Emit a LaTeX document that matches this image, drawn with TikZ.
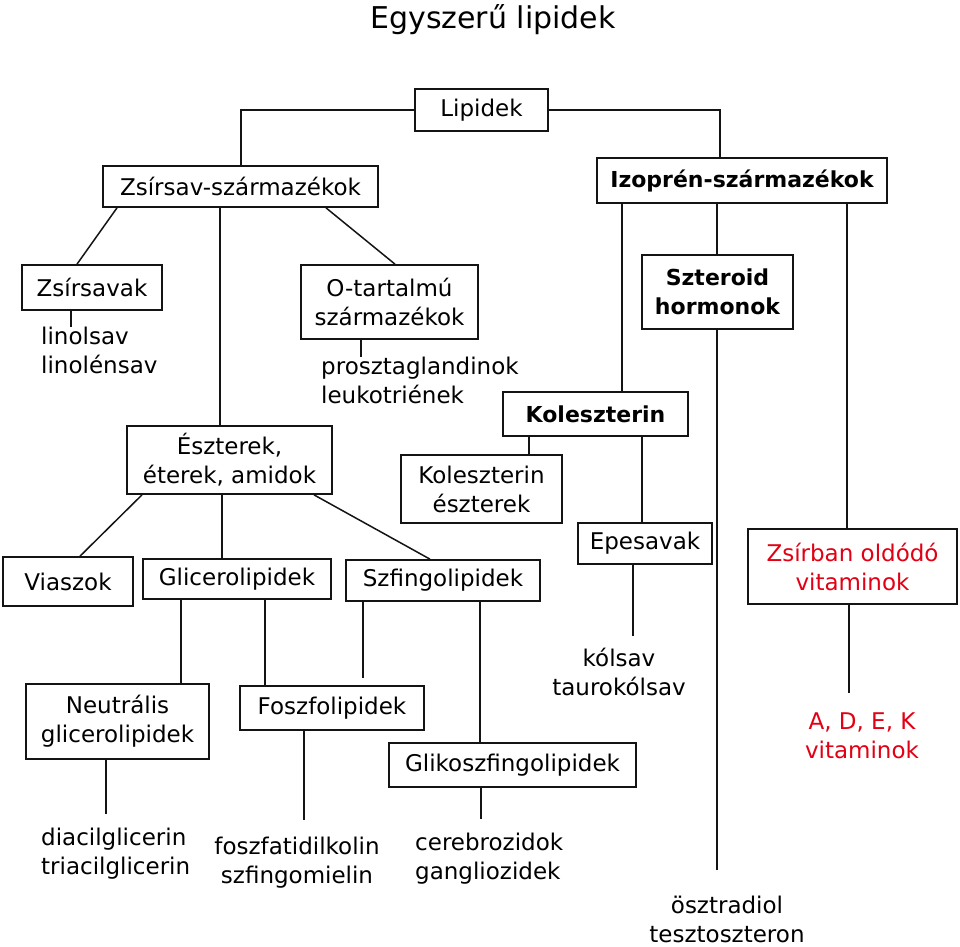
\documentclass[tikz,border=0pt]{standalone}
\usepackage{fontspec}
\setmainfont{DejaVu Sans}
\definecolor{vred}{RGB}{225,0,20}
\definecolor{ink}{RGB}{20,20,20}
\begin{document}
\begin{tikzpicture}[x=1pt,y=-1pt,
  box/.style={draw=ink, line width=1.7pt, inner sep=0pt, align=center, text=black,
    font=\fontsize{23}{29}\selectfont},
  bbox/.style={box, font=\fontsize{22}{29}\bfseries\selectfont},
  txt/.style={inner sep=0pt, font=\fontsize{23}{28.5}\selectfont},
  link/.style={draw=ink, line width=1.5pt}]
\useasboundingbox (0,0) rectangle (960,946);
\node[font=\fontsize{30}{36}\selectfont] (title) at (493,20) {Egyszerű lipidek};
% boxes
\node[box, minimum width=133pt, minimum height=42pt] (lip) at (481.5,110) {Lipidek};
\node[box, minimum width=275pt, minimum height=41pt] (zs) at (240.5,186.5) {Zsírsav-származékok};
\node[bbox, minimum width=290pt, minimum height=45pt] (izo) at (742,180.5) {Izoprén-származékok};
\node[box, minimum width=140pt, minimum height=45pt] (zsa) at (92,287.5) {Zsírsavak};
\node[box, minimum width=177pt, minimum height=74pt] (ot) at (389.5,302) {O-tartalmú\\származékok};
\node[box, minimum width=205pt, minimum height=68pt] (est) at (229.5,460) {Észterek,\\éterek, amidok};
\node[box, minimum width=130pt, minimum height=49pt] (via) at (68,581.5) {Viaszok};
\node[box, minimum width=188pt, minimum height=40pt] (gli) at (237,579) {Glicerolipidek};
\node[box, minimum width=194pt, minimum height=41pt] (szf) at (443,580.5) {Szfingolipidek};
\node[box, minimum width=161pt, minimum height=68pt] (kole) at (481.5,489) {Koleszterin\\észterek};
\node[bbox, minimum width=185pt, minimum height=44pt] (kol) at (595.5,414) {Koleszterin};
\node[bbox, minimum width=151pt, minimum height=74pt] (szt) at (717.5,292) {Szteroid\\hormonok};
\node[box, minimum width=209pt, minimum height=75pt, text=vred] (zsv) at (852.5,566.5) {Zsírban oldódó\\vitaminok};
\node[box, minimum width=134pt, minimum height=41pt] (epe) at (645,543.5) {Epesavak};
\node[box, minimum width=183pt, minimum height=75pt] (neu) at (117.5,721.5) {Neutrális\\glicerolipidek};
\node[box, minimum width=184pt, minimum height=44pt] (fos) at (332,708) {Foszfolipidek};
\node[box, minimum width=247pt, minimum height=44pt] (gsz) at (512.5,765) {Glikoszfingolipidek};
% plain texts
\node[txt, anchor=north west, align=left] (linol) at (41,327) {linolsav\\linolénsav};
\node[txt, anchor=north west, align=left] (prosz) at (321,357) {prosztaglandinok\\leukotriének};
\node[txt, anchor=north west, align=left] (diacil) at (41,828) {diacilglicerin\\triacilglicerin};
\node[txt, anchor=north, align=center] (foszfat) at (297,837) {foszfatidilkolin\\szfingomielin};
\node[txt, anchor=north west, align=left] (cereb) at (415,833) {cerebrozidok\\gangliozidek};
\node[txt, anchor=north, align=center] (kolsav) at (619,648) {kólsav\\taurokólsav};
\node[txt, anchor=north, align=center] (osztr) at (727,896) {ösztradiol\\tesztoszteron};
\node[txt, anchor=north, align=center, text=vred] (adek) at (862,713) {A, D, E, K\\vitaminok};
% connectors
\draw[link] (lip.west) -| (zs.north -| 241,0);
\draw[link] (lip.east) -| (izo.north -| 720,0);
\draw[link] (zs.south -| 117,0) -- (zsa.north -| 77,0);
\draw[link] (zs.south -| 220,0) -- (est.north -| 220,0);
\draw[link] (zs.south -| 326,0) -- (ot.north -| 395,0);
\draw[link] (zsa.south -| 71,0) -- (linol.north -| 71,0);
\draw[link] (ot.south -| 361,0) -- (prosz.north -| 361,0);
\draw[link] (est.south -| 142,0) -- (via.north -| 80,0);
\draw[link] (est.south -| 222,0) -- (gli.north -| 222,0);
\draw[link] (est.south -| 314,0) -- (szf.north -| 430,0);
\draw[link] (izo.south -| 622,0) -- (kol.north -| 622,0);
\draw[link] (izo.south -| 717,0) -- (szt.north -| 717,0);
\draw[link] (izo.south -| 847,0) -- (zsv.north -| 847,0);
\draw[link] (kol.south -| 529,0) -- (kole.north -| 529,0);
\draw[link] (kol.south -| 642,0) -- (epe.north -| 642,0);
\draw[link, shorten >=26pt] (szt.south -| 717,0) -- (osztr.north -| 717,0);
\draw[link, shorten >=20pt] (zsv.south -| 849,0) -- (adek.north -| 849,0);
\draw[link, shorten >=12pt] (epe.south -| 633,0) -- (kolsav.north -| 633,0);
\draw[link] (gli.south -| 181,0) -- (neu.north -| 181,0);
\draw[link] (gli.south -| 265,0) -- (fos.north -| 265,0);
\draw[link, shorten >=7pt] (szf.south -| 363,0) -- (fos.north -| 363,0);
\draw[link] (szf.south -| 480,0) -- (gsz.north -| 480,0);
\draw[link, shorten >=14pt] (neu.south -| 106,0) -- (diacil.north -| 106,0);
\draw[link, shorten >=17pt] (fos.south -| 304,0) -- (foszfat.north -| 304,0);
\draw[link, shorten >=14pt] (gsz.south -| 481,0) -- (cereb.north -| 481,0);
\end{tikzpicture}
\end{document}
